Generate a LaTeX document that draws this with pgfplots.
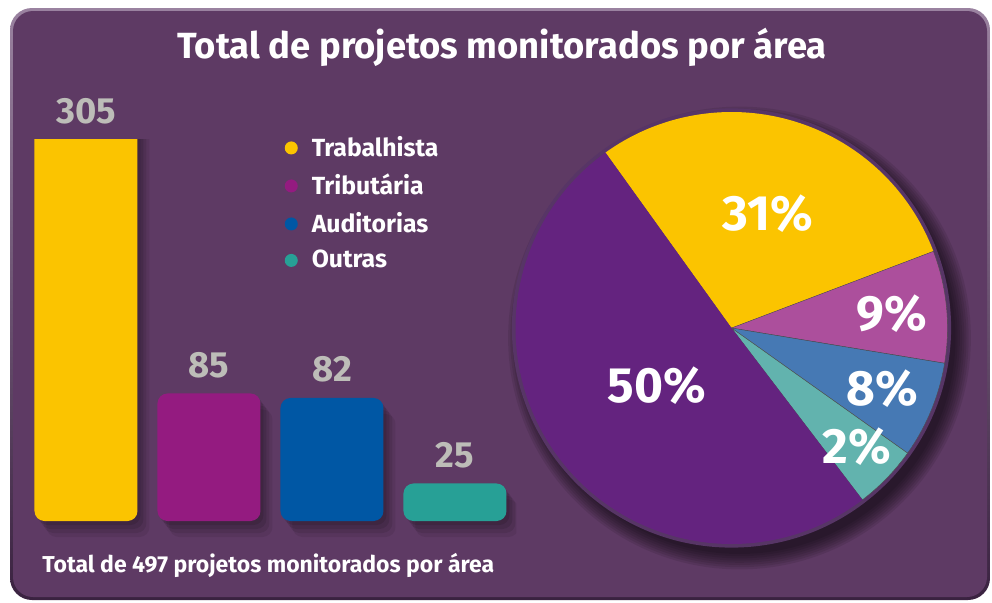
\documentclass[border=0pt]{standalone}
\usepackage{fontspec}
\setmainfont{Fira Sans}
\usepackage{pgfplots}
\pgfplotsset{compat=1.18}
\definecolor{bg}{HTML}{5E3A64}
\definecolor{bgTop}{HTML}{9A82A0}
\definecolor{bgBot}{HTML}{3A2240}
\definecolor{cYel}{HTML}{FBC400}
\definecolor{cMag}{HTML}{941B80}
\definecolor{cBlu}{HTML}{0057A4}
\definecolor{cTea}{HTML}{27A096}
\definecolor{pPur}{HTML}{64237F}
\definecolor{pPin}{HTML}{AC4F9C}
\definecolor{pBlu}{HTML}{4679B4}
\definecolor{pTea}{HTML}{62B3AE}
\definecolor{rim}{HTML}{573566}
\definecolor{labgray}{HTML}{BDBDB8}
\makeatletter
\tikzset{nopre/.code={\let\tikz@preactions\pgfutil@empty}}
\makeatother
\tikzset{softshadow/.style={
  preaction={fill=black,opacity=.10,transform canvas={xshift=1.5pt,yshift=-2pt}},
  preaction={fill=black,opacity=.10,transform canvas={xshift=3pt,yshift=-4pt}},
  preaction={fill=black,opacity=.09,transform canvas={xshift=4.5pt,yshift=-6pt}},
  preaction={fill=black,opacity=.07,transform canvas={xshift=6pt,yshift=-8pt}}}}
\pgfplotsset{mybar/.style={ybar, draw=none, bar shift=0pt, bar width=51.5pt, rounded corners=5pt, softshadow}}
\newcommand{\legdot}[1]{\fill[nopre,#1] (0pt,0pt) circle (3.25pt);}
\begin{document}
\begin{tikzpicture}
\path[use as bounding box] (0,0) rectangle (496pt,301pt);
\shade[rounded corners=11pt, top color=bgTop, bottom color=bgBot] (5pt,1pt) rectangle (495pt,297pt);
\fill[bg, rounded corners=10pt] (6.5pt,2.5pt) rectangle (493.5pt,295.5pt);
\node[text=white, font=\fontsize{18.2}{20}\selectfont\bfseries] at (251pt,277.5pt) {Total de projetos monitorados por área};
\node[anchor=west, text=white, font=\fontsize{11.5}{12}\selectfont\bfseries, inner sep=0pt] at (21pt,18.5pt) {Total de 497 projetos monitorados por área};
\foreach \k in {0,...,7} \fill[black, opacity=0.09] (369.75pt,132pt) circle ({108pt+\k*1.1pt});
\begin{axis}[at={(12.25pt,31.5pt)}, anchor=south west, scale only axis,
  width=246pt, height=199.5pt, xmin=-0.5, xmax=3.5, ymin=-12, ymax=254, hide axis,
  legend style={at={(0.516,1.03)}, anchor=north west, draw=none, fill=none, text=white,
    font=\fontsize{12.4}{13}\selectfont\bfseries, legend cell align=left, row sep=3.3pt,
    /tikz/every odd column/.append style={column sep=5pt}}]
\addplot[mybar, fill=cYel, legend image code/.code={\legdot{cYel}}] coordinates {(0,305)};
\addplot[mybar, fill=cMag, legend image code/.code={\legdot{cMag}}] coordinates {(1,85)};
\addplot[mybar, fill=cBlu, legend image code/.code={\legdot{cBlu}}] coordinates {(2,82)};
\addplot[mybar, fill=cTea, legend image code/.code={\legdot{cTea}}] coordinates {(3,25)};
\legend{Trabalhista,Tributária,Auditorias,Outras}
\addplot[forget plot, only marks, mark=none, nodes near coords, point meta=explicit symbolic,
  every node near coord/.append style={text=labgray, font=\fontsize{18.2}{19}\selectfont\bfseries, anchor=south, inner sep=0pt, yshift=7.5pt}]
  coordinates {(0,254) [305] (1,85) [85] (2,82) [82] (3,25) [25]};
\end{axis}
\begin{axis}[at={(365.75pt,137pt)}, anchor=center, scale only axis, width=216pt, height=216pt,
  xmin=-1, xmax=1, ymin=-1, ymax=1, hide axis, clip=false]
\fill[rim] (axis cs:0,0) circle[radius=109.8pt];
\fill[cYel] (axis cs:0,0) -- (axis cs:{cos(125.7)},{sin(125.7)}) arc[start angle=125.7, end angle=20.8, radius=108pt] -- cycle;
\fill[pPin, draw=black!70, line width=0.2pt] (axis cs:0,0) -- (axis cs:{cos(20.8)},{sin(20.8)}) arc[start angle=20.8, end angle=-9.4, radius=108pt] -- cycle;
\fill[pBlu, draw=black!70, line width=0.2pt] (axis cs:0,0) -- (axis cs:{cos(-9.4)},{sin(-9.4)}) arc[start angle=-9.4, end angle=-35.4, radius=108pt] -- cycle;
\fill[pTea, draw=black!70, line width=0.2pt] (axis cs:0,0) -- (axis cs:{cos(-35.4)},{sin(-35.4)}) arc[start angle=-35.4, end angle=-52.7, radius=108pt] -- cycle;
\fill[pPur] (axis cs:0,0) -- (axis cs:{cos(-52.7)},{sin(-52.7)}) arc[start angle=-52.7, end angle=-234.3, radius=108pt] -- cycle;
\begin{scope}[every node/.style={text=white, font=\fontsize{24.8}{26}\selectfont\bfseries, inner sep=0pt}]
\node at (axis cs:0.169,0.528) {31\%};
\node at (axis cs:0.743,0.065) {9\%};
\node at (axis cs:0.697,-0.282) {8\%};
\node at (axis cs:0.581,-0.551) {2\%};
\node at (axis cs:-0.345,-0.268) {50\%};
\end{scope}
\end{axis}
\end{tikzpicture}
\end{document}
